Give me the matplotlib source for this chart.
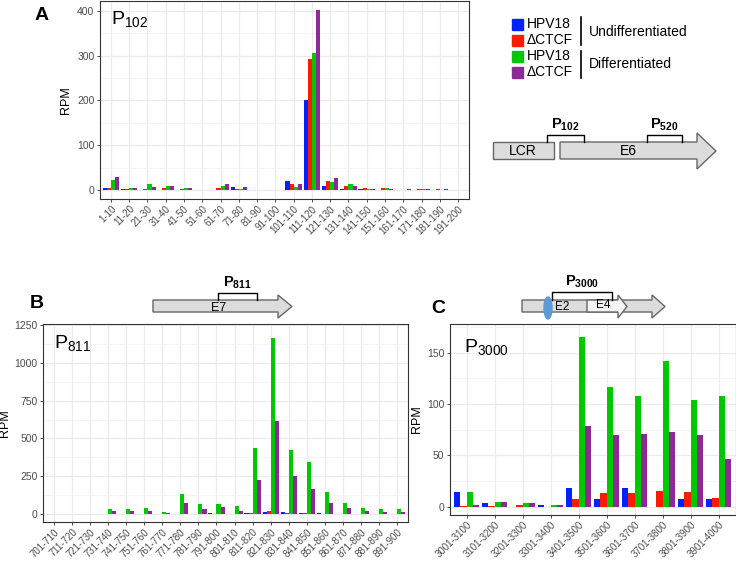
import numpy as np
import matplotlib
matplotlib.use('Agg')
import matplotlib.pyplot as plt
from matplotlib.patches import Rectangle, Polygon, Ellipse
from matplotlib.ticker import MultipleLocator

plt.rcParams['font.family'] = ['Liberation Sans', 'DejaVu Sans']
plt.rcParams['mathtext.fontset'] = 'custom'
plt.rcParams['mathtext.rm'] = 'Liberation Sans'
plt.rcParams['mathtext.bf'] = 'Liberation Sans:bold'
plt.rcParams['mathtext.default'] = 'regular'

# series: HPV18 / dCTCF, undifferentiated then differentiated
series = ['HPV18', '\u0394CTCF', 'HPV18', '\u0394CTCF']
colors = ['#0022FF', '#FF1A00', '#00C800', '#8E2A98']

# panel A, P102
a_labels = ['1-10', '11-20', '21-30', '31-40', '41-50', '51-60', '61-70', '71-80', '81-90', '91-100',
            '101-110', '111-120', '121-130', '131-140', '141-150', '151-160', '161-170', '171-180',
            '181-190', '191-200']
a_blue = [5, 3, 0, 0, 0, 0, 0, 6.5, 0, 0, 20.5, 200, 10, 3, 3, 0, 0, 0, 0, 0]
a_red = [5, 3, 3, 5, 3, 0, 5, 3, 0, 0.5, 14.5, 292, 20.5, 8, 4.5, 4.5, 1, 2, 2, 1]
a_green = [23, 5, 12.5, 9.5, 5, 0, 9.5, 2, 0.5, 0, 7.5, 306, 17, 12.5, 2, 5, 0, 2, 0, 1]
a_purple = [29, 5, 6, 8, 5, 1, 12.5, 7.5, 0, 0, 14, 402, 26, 8, 2, 2, 2, 2, 2, 1]

# panel B, P811
b_labels = ['701-710', '711-720', '721-730', '731-740', '741-750', '751-760', '761-770', '771-780',
            '781-790', '791-800', '801-810', '811-820', '821-830', '831-840', '841-850', '851-860',
            '861-870', '871-880', '881-890', '891-900']
b_blue = [1, 2, 1, 2, 0, 0, 0, 0, 0, 6, 0, 5, 13, 15, 5, 4, 0, 2, 2, 0]
b_red = [1, 2, 2, 1, 0, 2, 0, 0, 3, 0, 0, 5, 19, 5, 5, 2, 0, 1, 2, 3]
b_green = [3, 2, 2, 35, 31, 41, 12, 135, 64, 65, 53, 438, 1166, 423, 346, 147, 76, 41, 31, 31]
b_purple = [2, 3, 2, 19, 23, 19, 6, 71, 33, 47, 19, 228, 617, 252, 167, 73, 41, 20, 10, 10]

# panel C, P3000
c_labels = ['3001-3100', '3101-3200', '3201-3300', '3301-3400', '3401-3500', '3501-3600',
            '3601-3700', '3701-3800', '3801-3900', '3901-4000']
c_blue = [14, 4, 0, 2, 18, 8, 18, 0, 8, 8]
c_red = [1, 1, 1.5, 0, 7.5, 13, 13, 15, 14, 9]
c_green = [14, 4.5, 3.5, 1.5, 165, 117, 108, 142, 104, 108]
c_purple = [2, 5, 4, 1.5, 79, 70, 70.5, 73, 70, 47]

W, H = 736, 561
fig = plt.figure(figsize=(W / 100, H / 100), dpi=100)


def px_axes(left, top, right, bottom):
    return fig.add_axes([left / W, 1 - bottom / H, (right - left) / W, (bottom - top) / H])


def bar_panel(ax, labels, vals, ylim, major, minor, name, name_pos, ylab_x):
    x = np.arange(len(labels))
    w = 0.225
    for i, v in enumerate(vals):
        ax.bar(x + (i - 1.5) * w, v, w, color=colors[i], linewidth=0, zorder=3)
    ax.set_xlim(-0.6, len(labels) - 0.4)
    ax.set_ylim(*ylim)
    ax.set_xticks(x)
    ax.set_xticklabels(labels, rotation=45, ha='right', va='top', rotation_mode='anchor',
                       fontsize=7)
    ax.yaxis.set_major_locator(MultipleLocator(major))
    ax.yaxis.set_minor_locator(MultipleLocator(minor))
    ax.set_axisbelow(True)
    ax.grid(True, which='major', color='#EBEBEB', lw=0.9)
    ax.grid(True, which='minor', axis='y', color='#F2F2F2', lw=0.5)
    ax.tick_params(which='major', length=2.5, width=0.6, color='#333333',
                   labelcolor='#4D4D4D', pad=1)
    ax.tick_params(axis='y', labelsize=7.5, pad=1.5)
    ax.tick_params(which='minor', length=0)
    for s in ax.spines.values():
        s.set_color('#333333')
        s.set_linewidth(0.8)
    ax.set_ylabel('RPM', fontsize=9)
    ax.yaxis.set_label_coords(ylab_x, 0.5)
    ax.text(name_pos[0], name_pos[1], 'P$_{%s}$' % name, transform=ax.transAxes,
            fontsize=14, ha='left', va='top')


axA = px_axes(100, 0.5, 469, 199)
bar_panel(axA, a_labels, [a_blue, a_red, a_green, a_purple], (-20, 423), 100, 50, '102',
          (0.03, 0.955), -0.076)

axB = px_axes(43, 324, 408, 522)
bar_panel(axB, b_labels, [b_blue, b_red, b_green, b_purple], (-53, 1257), 250, 125, '811',
          (0.03, 0.955), -0.088)

axC = px_axes(450, 324, 735.5, 515)
bar_panel(axC, c_labels, [c_blue, c_red, c_green, c_purple], (-8, 178), 50, 25, '3000',
          (0.05, 0.93), -0.095)

# overlay in pixel coordinates for labels, legend and gene diagrams
ov = fig.add_axes([0, 0, 1, 1])
ov.set_xlim(0, W)
ov.set_ylim(H, 0)
ov.axis('off')
ov.patch.set_visible(False)

ov.text(42, 15, 'A', fontsize=14, weight='bold', ha='center', va='center')
ov.text(37, 303, 'B', fontsize=14, weight='bold', ha='center', va='center')
ov.text(438, 308, 'C', fontsize=14, weight='bold', ha='center', va='center')

# legend
for i, (name, c) in enumerate(zip(series, colors)):
    y = 24 + 16 * i
    ov.add_patch(Rectangle((512, y - 5.5), 11, 11, color=c))
    ov.text(527, y, name, fontsize=10, va='center', ha='left')
ov.plot([581, 581], [17, 45], color='black', lw=1.2)
ov.plot([581, 581], [51, 78], color='black', lw=1.2)
ov.text(589, 32, 'Undifferentiated', fontsize=10, va='center')
ov.text(589, 64, 'Differentiated', fontsize=10, va='center')

gray = '#DCDCDC'
edge = '#666666'


def arrow(x0, x1, xt, yt, yb, yht, yhb, fc=gray):
    pts = [(x0, yt), (x1, yt), (x1, yht), (xt, (yht + yhb) / 2), (x1, yhb), (x1, yb), (x0, yb)]
    ov.add_patch(Polygon(pts, closed=True, fc=fc, ec=edge, lw=1))


def bracket(x0, x1, yb, yt, label, fs=10.5):
    ov.plot([x0, x0, x1, x1], [yb, yt, yt, yb], color='black', lw=1)
    ov.text((x0 + x1) / 2, yt - 2, r'$\mathbf{P}_{\mathbf{%s}}$' % label, fontsize=fs,
            ha='center', va='bottom')


# diagram A
ov.add_patch(Rectangle((493, 142), 61, 17, fc=gray, ec=edge, lw=1))
ov.text(523, 151, 'LCR', fontsize=10, ha='center', va='center')
arrow(560, 697, 716, 142, 159, 133, 169)
ov.text(628, 151, 'E6', fontsize=10, ha='center', va='center')
bracket(547, 584, 142, 135, '102')
bracket(647, 682, 142, 135, '520')

# diagram B
arrow(153, 278, 292, 300, 312, 295, 318)
ov.text(219, 308, 'E7', fontsize=9, ha='center', va='center')
bracket(218, 257, 300, 293, '811')

# diagram C
arrow(522, 652, 665, 300, 312, 295, 318)
arrow(587, 618, 627, 300, 312, 295, 318, fc='#F4F4F4')
ov.text(562, 307, 'E2', fontsize=8.5, ha='center', va='center')
ov.text(603, 305, 'E4', fontsize=8.5, ha='center', va='center')
ov.add_patch(Ellipse((548, 308), 8, 22, color='#5B9BD5', zorder=5))
bracket(552, 612, 300, 292, '3000')

fig.savefig('out.png', dpi=100)
